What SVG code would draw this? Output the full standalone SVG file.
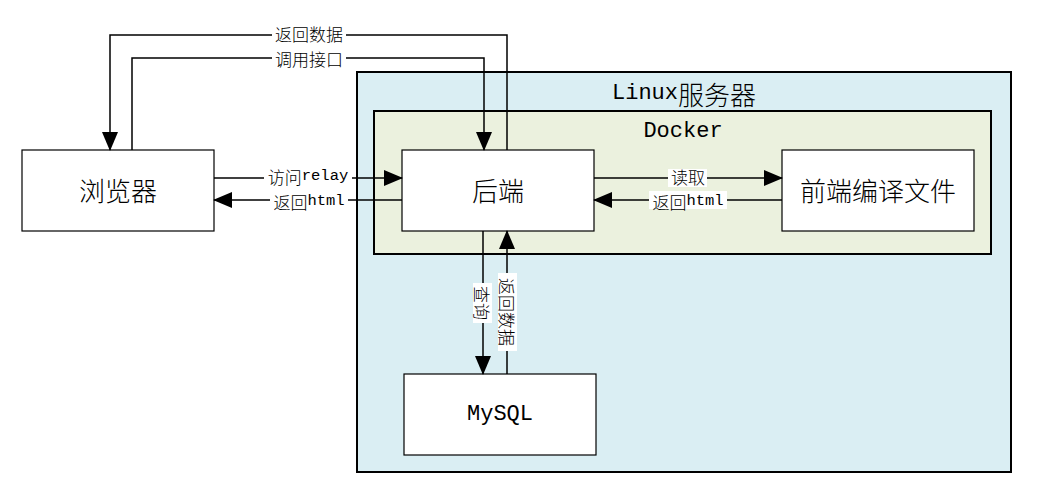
<svg xmlns="http://www.w3.org/2000/svg" width="1043" height="500" viewBox="0 0 1043 500">
<defs>
<marker id="arr" markerWidth="19" markerHeight="16" refX="18" refY="8" orient="auto" markerUnits="userSpaceOnUse">
<path d="M0,0 L19,8 L0,16 Z" fill="#000"/>
</marker>
<style>
.box{fill:#fff;stroke:#000;stroke-width:1.2}
.t{font-family:"Noto Sans CJK SC","Liberation Mono",sans-serif;fill:#000;text-anchor:middle;dominant-baseline:central;font-weight:300}
.n{font-size:26px}
.l{font-size:17px}
.m{font-family:"Liberation Mono",monospace;font-weight:400}
.n .m{font-size:22px}
.l .m{font-size:15.5px}
.c{fill:none;stroke:#000;stroke-width:1.5}
.bg{fill:#fff}
</style>
</defs>
<rect width="1043" height="500" fill="#fff"/>
<g id="linux">
<rect x="357" y="72" width="654" height="400" fill="#daeef3" stroke="#000" stroke-width="2"/>
<text class="t n" x="684" y="93"><tspan class="m">Linux</tspan>服务器</text>
</g>
<g id="docker">
<rect x="374" y="111" width="617" height="143" fill="#ebf1de" stroke="#000" stroke-width="2"/>
<text class="t n" x="683" y="131"><tspan class="m">Docker</tspan></text>
</g>
<g id="browser">
<rect class="box" x="22" y="150" width="192" height="81"/>
<text class="t n" x="118" y="189">浏览器</text>
</g>
<g id="backend">
<rect class="box" x="402" y="150" width="192" height="81"/>
<text class="t n" x="498" y="189">后端</text>
</g>
<g id="frontend">
<rect class="box" x="782" y="150" width="192" height="81"/>
<text class="t n" x="878" y="189">前端编译文件</text>
</g>
<g id="mysql">
<rect class="box" x="404" y="374" width="192" height="81"/>
<text class="t n" x="500" y="414"><tspan class="m">MySQL</tspan></text>
</g>
<g id="connectors">
<polyline class="c" points="507,150 507,35 110,35 110,150" marker-end="url(#arr)"/>
<rect class="bg" x="272" y="26" width="74" height="18"/>
<text class="t l" x="309" y="33">返回数据</text>
<polyline class="c" points="132,150 132,58 484,58 484,150" marker-end="url(#arr)"/>
<rect class="bg" x="272" y="49" width="74" height="18"/>
<text class="t l" x="309" y="58">调用接口</text>
<line class="c" x1="214" y1="178" x2="402" y2="178" marker-end="url(#arr)"/>
<rect class="bg" x="264" y="169" width="88" height="18"/>
<text class="t l" x="308" y="176">访问<tspan class="m">relay</tspan></text>
<line class="c" x1="402" y1="200" x2="214" y2="200" marker-end="url(#arr)"/>
<rect class="bg" x="270" y="191" width="78" height="18"/>
<text class="t l" x="309" y="201">返回<tspan class="m">html</tspan></text>
<line class="c" x1="594" y1="178" x2="782" y2="178" marker-end="url(#arr)"/>
<rect class="bg" x="668" y="169" width="39" height="18"/>
<text class="t l" x="688" y="176">读取</text>
<line class="c" x1="782" y1="200" x2="594" y2="200" marker-end="url(#arr)"/>
<rect class="bg" x="649" y="191" width="78" height="18"/>
<text class="t l" x="688" y="201">返回<tspan class="m">html</tspan></text>
<line class="c" x1="483" y1="231" x2="483" y2="374" marker-end="url(#arr)"/>
<rect class="bg" x="473" y="283" width="19" height="40"/>
<text class="t l" transform="translate(482,303) rotate(90)">查询</text>
<line class="c" x1="507" y1="374" x2="507" y2="231" marker-end="url(#arr)"/>
<rect class="bg" x="498" y="273" width="19" height="78"/>
<text class="t l" transform="translate(507,312) rotate(90)">返回数据</text>
</g>
</svg>
